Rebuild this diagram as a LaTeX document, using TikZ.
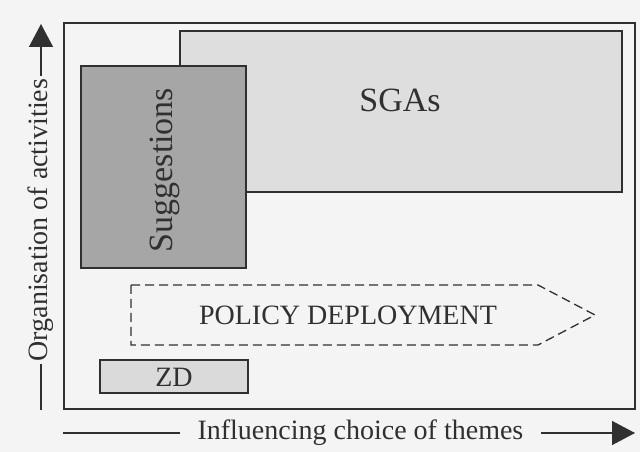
\documentclass[tikz,border=0pt]{standalone}
\usepackage{fontspec}
\setmainfont{Liberation Serif}
\usetikzlibrary{arrows.meta}

\definecolor{paper}{HTML}{F4F4F4}
\definecolor{ink}{HTML}{303030}
\definecolor{shade1}{HTML}{DEDEDE}
\definecolor{shade2}{HTML}{A6A6A6}
\definecolor{shade3}{HTML}{DADADA}

\tikzstyle{activity-box}=[draw=ink, line width=1.5pt, inner sep=0pt]
\tikzstyle{big-text}=[inner sep=0pt, text=ink, font=\fontsize{34}{40}\selectfont]
\tikzstyle{mid-text}=[inner sep=0pt, text=ink, font=\fontsize{28}{32}\selectfont]
\tikzstyle{axis-line}=[draw=ink, line width=1.4pt, -{Triangle[length=23pt, width=24pt]}]
\tikzstyle{axis-label}=[fill=paper, inner ysep=0pt, text=ink, font=\fontsize{28}{32}\selectfont]

\begin{document}
\begin{tikzpicture}[x=1pt, y=-1pt]
      \fill[paper] (0,0) rectangle (640,452);
      \useasboundingbox (0,0) rectangle (640,452);

      % frame and boxes
      \node (frame) at (349.5, 216) [draw=ink, line width=2pt,
            minimum width=571pt, minimum height=386pt] {};
      \node (sgas) at (401, 111.5)
            [activity-box, fill=shade1, minimum width=442pt, minimum height=161pt] {};
      \node (sgas-label) at (400, 100.5) [big-text] {SGAs};
      \node (suggestions) at (163.5, 167)
            [activity-box, fill=shade2, rotate=90, minimum width=202pt, minimum height=165pt] {};
      \node (suggestions-label) at (164.5, 170) [big-text, rotate=90] {Suggestions};
      \node (zd) at (174, 376.5)
            [activity-box, fill=shade3, minimum width=148pt, minimum height=33pt] {};
      \node (zd-label) at (174, 377) [mid-text] {ZD};

      % policy deployment arrow
      \coordinate (policy-a) at (131, 285);
      \coordinate (policy-b) at (538, 285);
      \coordinate (policy-tip) at (595, 315);
      \coordinate (policy-c) at (538, 345);
      \coordinate (policy-d) at (131, 345);
      \draw[ink, line width=1.3pt, dash pattern=on 9pt off 5pt, line join=miter]
            (policy-a) -- (policy-b) -- (policy-tip) -- (policy-c) -- (policy-d) -- cycle;
      \node (policy-label) at (348, 315.5) [mid-text] {POLICY DEPLOYMENT};

      % axes
      \coordinate (y-start) at (41, 410);
      \coordinate (y-end) at (41, 24);
      \draw[axis-line] (y-start) -- node[pos=0.492, axis-label, rotate=90, inner xsep=3pt]
            {Organisation of activities} (y-end);
      \coordinate (x-start) at (63, 433);
      \coordinate (x-end) at (635, 433);
      \draw[axis-line] (x-start) -- node[pos=0.52, axis-label, inner xsep=18pt]
            {Influencing choice of themes} (x-end);
\end{tikzpicture}
\end{document}
